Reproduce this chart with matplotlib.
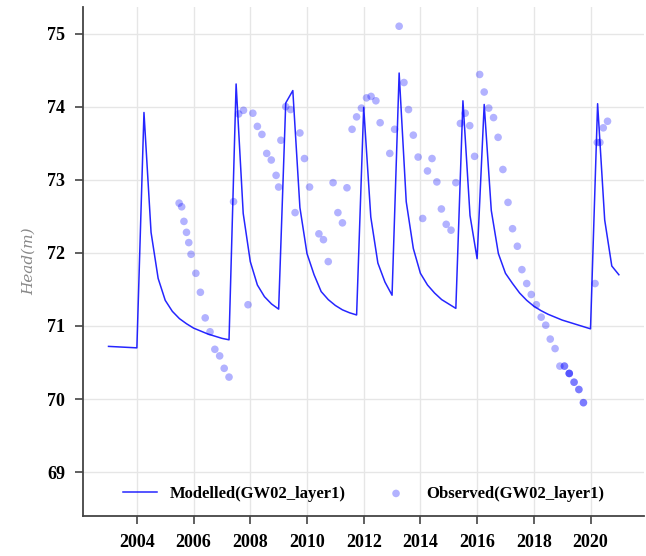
import matplotlib
matplotlib.use("Agg")
import matplotlib.pyplot as plt

# modelled head, decimal years
mod_t = [2003.0, 2004.0, 2004.25, 2004.5, 2004.75, 2005.0, 2005.25, 2005.5, 2005.75,
         2006.0, 2006.25, 2006.5, 2006.75, 2007.0, 2007.25, 2007.5, 2007.75, 2008.0,
         2008.25, 2008.5, 2008.75, 2009.0, 2009.25, 2009.5, 2009.75, 2010.0, 2010.25,
         2010.5, 2010.75, 2011.0, 2011.25, 2011.5, 2011.75, 2012.0, 2012.25, 2012.5,
         2012.75, 2013.0, 2013.25, 2013.5, 2013.75, 2014.0, 2014.25, 2014.5, 2014.75,
         2015.0, 2015.25, 2015.5, 2015.75, 2016.0, 2016.25, 2016.5, 2016.75, 2017.0,
         2017.25, 2017.5, 2017.75, 2018.0, 2018.25, 2018.5, 2018.75, 2019.0, 2019.25,
         2019.5, 2019.75, 2020.0, 2020.25, 2020.5, 2020.75, 2021.0]
mod_h = [70.72, 70.70, 73.92, 72.28, 71.65, 71.35, 71.20, 71.10, 71.03,
         70.97, 70.93, 70.89, 70.86, 70.83, 70.81, 74.31, 72.54, 71.88,
         71.56, 71.40, 71.30, 71.23, 74.05, 74.22, 72.62, 71.99, 71.70,
         71.47, 71.36, 71.28, 71.22, 71.18, 71.15, 73.99, 72.49, 71.86,
         71.60, 71.42, 74.46, 72.70, 72.06, 71.72, 71.56, 71.45, 71.36,
         71.30, 71.24, 74.08, 72.51, 71.92, 74.03, 72.58, 71.99, 71.72,
         71.58, 71.45, 71.35, 71.27, 71.21, 71.16, 71.12, 71.08, 71.05,
         71.02, 70.99, 70.96, 74.04, 72.45, 71.82, 71.70]

# observed head
obs_t = [2005.49, 2005.58, 2005.66, 2005.75, 2005.83, 2005.91, 2006.08, 2006.24,
         2006.41, 2006.58, 2006.75, 2006.92, 2007.08, 2007.25, 2007.41, 2007.59,
         2007.76, 2007.92, 2008.09, 2008.25, 2008.41, 2008.58, 2008.74, 2008.91,
         2009.0, 2009.08, 2009.25, 2009.42, 2009.58, 2009.75, 2009.91, 2010.09,
         2010.42, 2010.58, 2010.75, 2010.92, 2011.09, 2011.25, 2011.41, 2011.59,
         2011.75, 2011.92, 2012.10, 2012.26, 2012.43, 2012.58, 2012.92, 2013.09,
         2013.25, 2013.42, 2013.58, 2013.75, 2013.92, 2014.08, 2014.25, 2014.41,
         2014.58, 2014.74, 2014.91, 2015.08, 2015.25, 2015.41, 2015.58, 2015.74,
         2015.91, 2016.09, 2016.25, 2016.41, 2016.58, 2016.74, 2016.91, 2017.09,
         2017.25, 2017.42, 2017.58, 2017.75, 2017.91, 2018.09, 2018.26, 2018.42,
         2018.58, 2018.75, 2018.92, 2019.08, 2019.08, 2019.25, 2019.25, 2019.25,
         2019.42, 2019.42, 2019.59, 2019.59, 2019.75, 2019.75, 2020.16, 2020.24,
         2020.33, 2020.45, 2020.60]
obs_h = [72.68, 72.63, 72.43, 72.28, 72.14, 71.98, 71.72, 71.46,
         71.11, 70.92, 70.68, 70.59, 70.42, 70.30, 72.70, 73.90,
         73.95, 71.29, 73.91, 73.73, 73.62, 73.36, 73.27, 73.06,
         72.90, 73.54, 74.00, 73.96, 72.55, 73.64, 73.29, 72.90,
         72.26, 72.18, 71.88, 72.96, 72.55, 72.41, 72.89, 73.69,
         73.86, 73.98, 74.12, 74.14, 74.08, 73.78, 73.36, 73.69,
         75.10, 74.33, 73.96, 73.61, 73.31, 72.47, 73.12, 73.29,
         72.97, 72.60, 72.39, 72.31, 72.96, 73.77, 73.91, 73.74,
         73.32, 74.44, 74.20, 73.98, 73.85, 73.58, 73.14, 72.69,
         72.33, 72.09, 71.77, 71.58, 71.43, 71.29, 71.12, 71.01,
         70.82, 70.69, 70.45, 70.45, 70.45, 70.35, 70.35, 70.35,
         70.23, 70.23, 70.13, 70.13, 69.95, 69.95, 71.58, 73.51,
         73.51, 73.71, 73.80]

years = [2004, 2006, 2008, 2010, 2012, 2014, 2016, 2018, 2020]
heads = [69, 70, 71, 72, 73, 74, 75]

fig = plt.figure(figsize=(6.46, 5.56), dpi=100)
ax = fig.add_axes([0.1285, 0.072, 0.869, 0.915])

ax.plot(mod_t, mod_h, color="blue", alpha=0.85, lw=1.1, label="Modelled(GW02_layer1)")
ax.scatter(obs_t, obs_h, s=30, color="blue", alpha=0.3, edgecolors="none",
           label="Observed(GW02_layer1)")

ax.set_xlim(2002.1, 2021.9)
ax.set_ylim(68.4, 75.36)
ax.set_xticks(years)
ax.set_yticks(heads)
ax.grid(True, color="#e6e6e6", lw=1)
ax.set_axisbelow(True)

for s in ["top", "right"]:
    ax.spines[s].set_visible(False)
for s in ["left", "bottom"]:
    ax.spines[s].set_color("#444444")
    ax.spines[s].set_linewidth(1.3)

ax.tick_params(direction="out", length=6, width=1.2, color="#444444", pad=7)
for lab in ax.get_xticklabels() + ax.get_yticklabels():
    lab.set_fontfamily("Liberation Serif")
    lab.set_fontweight("bold")
    lab.set_fontsize(13)

ax.set_ylabel("Head(m)", fontfamily="DejaVu Serif", fontstyle="italic",
              fontsize=11, color="#888888", labelpad=8)

# legend along the bottom, no frame
leg = ax.legend(loc="lower center", ncol=2, frameon=False, columnspacing=2.0,
                handlelength=2.0, borderaxespad=0.45,
                prop={"family": "Liberation Serif", "weight": "bold", "size": 12})

fig.savefig("out.png", dpi=100)
